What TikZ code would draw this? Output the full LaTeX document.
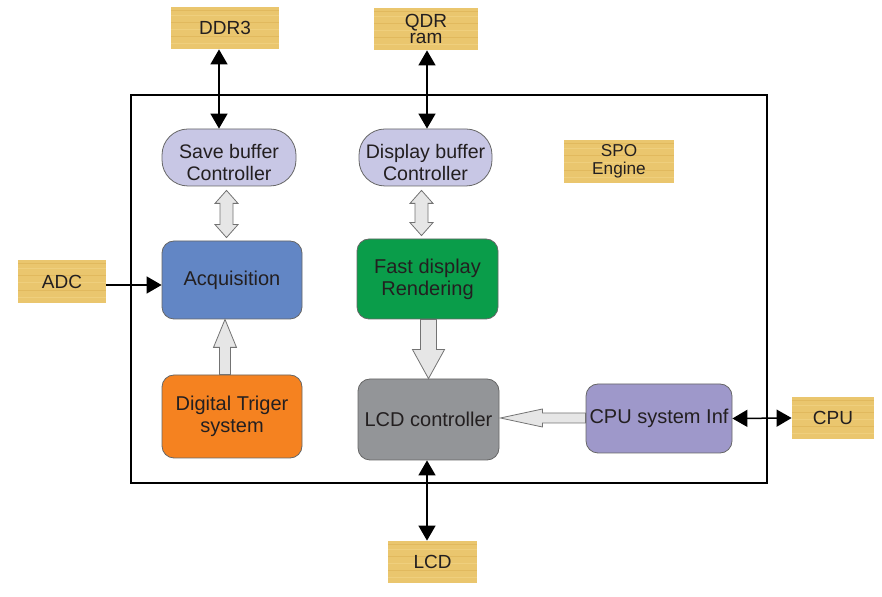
\documentclass[tikz,border=0pt]{standalone}
\usepackage{fontspec}
\setmainfont{Liberation Sans}
\usetikzlibrary{arrows.meta,calc}
\definecolor{wood}{RGB}{234,198,110}
\definecolor{woodlight}{RGB}{244,216,140}
\definecolor{wooddark}{RGB}{218,174,80}
\definecolor{lav}{RGB}{200,199,229}
\definecolor{acqblue}{RGB}{98,134,197}
\definecolor{trigorange}{RGB}{245,130,32}
\definecolor{fastgreen}{RGB}{10,157,74}
\definecolor{lcdgray}{RGB}{147,149,152}
\definecolor{cpupurple}{RGB}{158,152,202}
\definecolor{hollowfill}{RGB}{230,230,230}
\definecolor{txt}{RGB}{35,31,32}
\tikzset{
  woodbox/.style={fill=wood, inner sep=0pt, text=txt, align=center,
    font=\fontsize{9.5}{9.5}\selectfont,
    path picture={
      \foreach \f/\c in {0.12/woodlight,0.3/wooddark,0.47/woodlight,0.63/wooddark,0.8/woodlight,0.92/wooddark}{
        \draw[\c, line width=0.5pt, opacity=0.5]
          ($(path picture bounding box.south west)!\f!(path picture bounding box.north west)$) --
          ($(path picture bounding box.south east)!\f!(path picture bounding box.north east)$);
      }}},
  block/.style={draw=black!60, line width=0.4pt, rounded corners=6pt, text=txt,
    align=center, inner sep=0pt, font=\fontsize{10}{11}\selectfont},
  ctrl/.style={block, rounded corners=13pt, fill=lav, font=\fontsize{9.8}{11}\selectfont},
  link/.style={line width=0.75pt, {Triangle[length=7.5pt,width=8.5pt]}-{Triangle[length=7.5pt,width=8.5pt]}},
  onelink/.style={line width=0.75pt, -{Triangle[length=7.5pt,width=8.5pt]}},
  hollow/.style={draw=black!55, fill=hollowfill, line width=0.4pt, line join=miter},
}
\begin{document}
\begin{tikzpicture}[x=0.5pt,y=-0.5pt]
\useasboundingbox (0,0) rectangle (882,597);
% frame
\draw[line width=0.6pt] (131,95) rectangle (767,483);

% external wood boxes
\node[woodbox, minimum width=54pt, minimum height=21pt] (ddr) at (225,28) {DDR3};
\node[woodbox, minimum width=52pt, minimum height=21pt, font=\fontsize{9.5}{6.6}\selectfont] (qdr) at (426,29) {QDR\\ram};
\node[woodbox, minimum width=55pt, minimum height=21.5pt, font=\fontsize{8.6}{8.8}\selectfont] (spo) at (619,161.5) {SPO\\Engine};
\node[woodbox, minimum width=44pt, minimum height=21.5pt] (adc) at (62,281.5) {ADC};
\node[woodbox, minimum width=41pt, minimum height=21pt] (cpu) at (833,418) {CPU};
\node[woodbox, minimum width=44.5pt, minimum height=21pt] (lcd) at (432.5,562) {LCD};

% internal blocks
\node[ctrl, minimum width=67pt, minimum height=28.5pt] (save) at (229,157.5) {\rule{0pt}{12.3pt}Save buffer\\Controller};
\node[ctrl, minimum width=66.5pt, minimum height=28.5pt] (disp) at (425.5,157.5) {\rule{0pt}{12.3pt}Display buffer\\Controller};
\node[block, fill=acqblue, minimum width=70pt, minimum height=39pt] (acq) at (232,280) {Acquisition};
\node[block, fill=trigorange, minimum width=70pt, minimum height=41.5pt] (trig) at (232,416.5) {Digital Triger\\system};
\node[block, fill=fastgreen, minimum width=70.5pt, minimum height=40pt] (fast) at (427.5,279) {Fast display\\Rendering};
\node[block, fill=lcdgray, minimum width=70.5pt, minimum height=40.5pt] (lcdc) at (428.5,419.5) {LCD controller};
\node[block, fill=cpupurple, minimum width=73pt, minimum height=34.5pt] (cpusys) at (659,418.5) {CPU system Inf};

% black connectors
\draw[link] (ddr.south -| 219,0) -- (save.north -| 219,0);
\draw[link] (qdr.south -| 427,0) -- (disp.north -| 427,0);
\draw[onelink] (adc.east |- 0,285) -- (acq.west |- 0,285);
\draw[link] (cpusys.east) -- (cpu.west);
\draw[link] (lcdc.south -| 427,0) -- (lcd.north -| 427,0);

% hollow double arrow save <-> acq (x = 226.5)
\draw[hollow]
  ($(save.south -| 226.5,0)+(0,4)$) -- ++(11.5,13) -- ++(-5,0)
  -- ($(acq.north -| 233,0)+(0,-16)$) -- ++(5,0)
  -- ($(acq.north -| 226.5,0)+(0,-3)$) -- ++(-11.5,-13) -- ++(5,0)
  -- ($(save.south -| 220,0)+(0,17)$) -- ++(-5,0) -- cycle;
% hollow double arrow disp <-> fast (x = 421.5)
\draw[hollow]
  ($(disp.south -| 421.5,0)+(0,4)$) -- ++(11.5,13) -- ++(-5,0)
  -- ($(fast.north -| 428,0)+(0,-16)$) -- ++(5,0)
  -- ($(fast.north -| 421.5,0)+(0,-3)$) -- ++(-11.5,-13) -- ++(5,0)
  -- ($(disp.south -| 415,0)+(0,17)$) -- ++(-5,0) -- cycle;
% hollow arrow trig -> acq (x = 225)
\draw[hollow]
  (trig.north -| 219.5,0) -- ($(acq.south -| 219.5,0)+(0,28)$) -- ++(-6,0)
  -- (acq.south -| 225,0) -- ++(11.5,28) -- ++(-6,0)
  -- (trig.north -| 230.5,0) -- cycle;
% hollow arrow fast -> lcdc (x = 428.5)
\draw[hollow]
  (fast.south -| 420.5,0) -- ($(lcdc.north -| 420.5,0)+(0,-29)$) -- ++(-8,0)
  -- (lcdc.north -| 428.5,0) -- ++(16,-29) -- ++(-8,0)
  -- (fast.south -| 436.5,0) -- cycle;
% hollow arrow cpusys -> lcdc (y = 418)
\draw[hollow]
  (cpusys.west |- 0,413) -- ($(lcdc.east |- 0,413)+(43,0)$) -- ++(0,-4)
  -- ($(lcdc.east |- 0,418)+(1,0)$) -- ($(lcdc.east |- 0,427)+(43,0)$) -- ++(0,-4)
  -- (cpusys.west |- 0,423) -- cycle;
\end{tikzpicture}
\end{document}
